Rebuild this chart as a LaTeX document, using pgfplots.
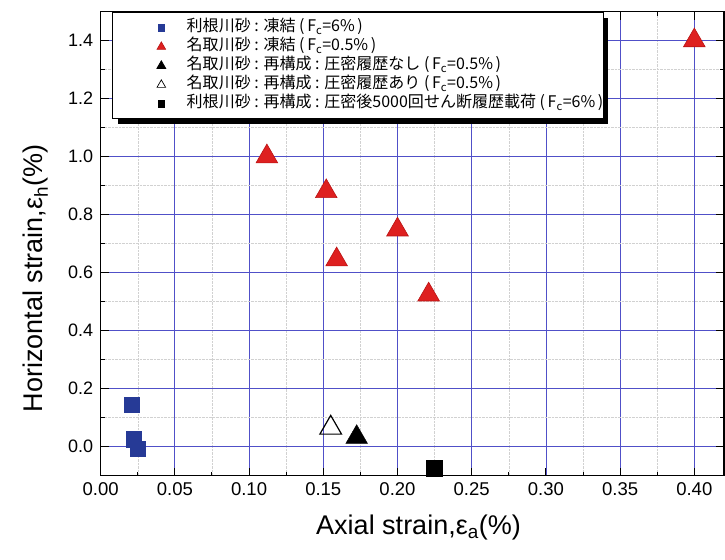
\documentclass[border=0pt]{standalone}
\usepackage{fontspec}
\setmainfont{Liberation Sans}
\newfontfamily\jp{Noto Sans CJK JP}
\usepackage{pgfplots}
\pgfplotsset{compat=1.18}
\usetikzlibrary{shadows}
\definecolor{gridblue}{RGB}{80,80,200}
\definecolor{sqblue}{RGB}{38,58,150}
\definecolor{tred}{RGB}{222,32,32}
\definecolor{tredd}{RGB}{185,20,20}
\begin{document}
\begin{tikzpicture}
\begin{axis}[
  scale only axis, width=623pt, height=464pt,
  xmin=0, xmax=0.42, ymin=-0.1, ymax=1.5,
  xtick={0,0.05,0.10,0.15,0.20,0.25,0.30,0.35,0.40},
  ytick={0,0.2,0.4,0.6,0.8,1.0,1.2,1.4},
  minor x tick num=1, minor y tick num=1,
  grid=both,
  major grid style={draw=gridblue, line width=0.8pt},
  minor grid style={draw=black!18, densely dotted, line width=0.5pt},
  tick align=inside, major tick length=8pt, minor tick length=4pt,
  every tick/.style={black, line width=1pt},
  axis line style={line width=1.3pt},
  /pgf/number format/assume math mode=true,
  xticklabel style={/pgf/number format/.cd, fixed, fixed zerofill, precision=2, /tikz/.cd, font=\fontsize{18.5}{18.5}\selectfont, yshift=-3pt},
  yticklabel style={/pgf/number format/.cd, fixed, fixed zerofill, precision=1, /tikz/.cd, font=\fontsize{18}{18}\selectfont, xshift=-4pt},
  xlabel={Axial strain,ε\textsubscript{a}(\%)},
  ylabel={Horizontal strain,ε\textsubscript{h}(\%)},
  xlabel style={font=\fontsize{27}{27}\selectfont, at={(axis description cs:0.51,-0.112)}, anchor=center},
  ylabel style={font=\fontsize{27}{27}\selectfont, at={(axis description cs:-0.104,0.425)}, anchor=center},
  legend style={at={(axis description cs:0.019,0.998)}, anchor=north west,
    draw=black, line width=0.8pt, fill=white,
    drop shadow={shadow xshift=5pt, shadow yshift=-5pt, fill=black, opacity=1},
    font=\jp\fontsize{16}{16}\selectfont,
    inner xsep=0pt, inner ysep=7pt, row sep=3pt, column sep=0pt,
    nodes={inner sep=0pt, text height=12pt, text depth=4pt}},
  legend cell align=left,
  legend image code/.code={\path (-48pt,0) (25pt,0); \draw[#1,only marks] plot coordinates {(0pt,0pt)};},
]
\addplot[only marks, mark=square*, mark size=7.5pt, color=sqblue, legend image post style={mark size=3.4pt}]
  coordinates {(0.021,0.146) (0.022,0.026) (0.025,-0.007)};
\addlegendentry{利根川砂 : 凍結 (\,F\textsubscript{c}=6\%\,)}
\addplot[only marks, mark=triangle*, mark size=12.5pt, draw=tredd, fill=tred, line width=0.6pt, legend image post style={mark size=5pt}]
  coordinates {(0.112,1.00) (0.152,0.88) (0.159,0.645) (0.200,0.748) (0.221,0.524) (0.400,1.40)};
\addlegendentry{名取川砂 : 凍結 (\,F\textsubscript{c}=0.5\%\,)}
\addplot[only marks, mark=triangle*, mark size=12.5pt, draw=black, fill=black, legend image post style={mark size=5pt}]
  coordinates {(0.1725,0.033)};
\addlegendentry{名取川砂 : 再構成 : 圧密履歴なし (\,F\textsubscript{c}=0.5\%\,)}
\addplot[only marks, mark=triangle, mark size=12.5pt, draw=black, line width=1.2pt, legend image post style={mark size=5pt, line width=0.7pt}]
  coordinates {(0.155,0.065)};
\addlegendentry{名取川砂 : 再構成 : 圧密履歴あり (\,F\textsubscript{c}=0.5\%\,)}
\addplot[only marks, mark=square*, mark size=8pt, color=black, legend image post style={mark size=3.4pt}]
  coordinates {(0.225,-0.073)};
\addlegendentry{利根川砂 : 再構成 : 圧密後5000回せん断履歴載荷 (\,F\textsubscript{c}=6\%\,)\hspace{35pt}}
\coordinate (SW) at (rel axis cs:0,0);
\coordinate (NE) at (rel axis cs:1,1);
\end{axis}
\pgfresetboundingbox
\path[use as bounding box] ([xshift=-100.6pt,yshift=-84pt]SW) rectangle ([xshift=1pt,yshift=11.5pt]NE);
\end{tikzpicture}
\end{document}
